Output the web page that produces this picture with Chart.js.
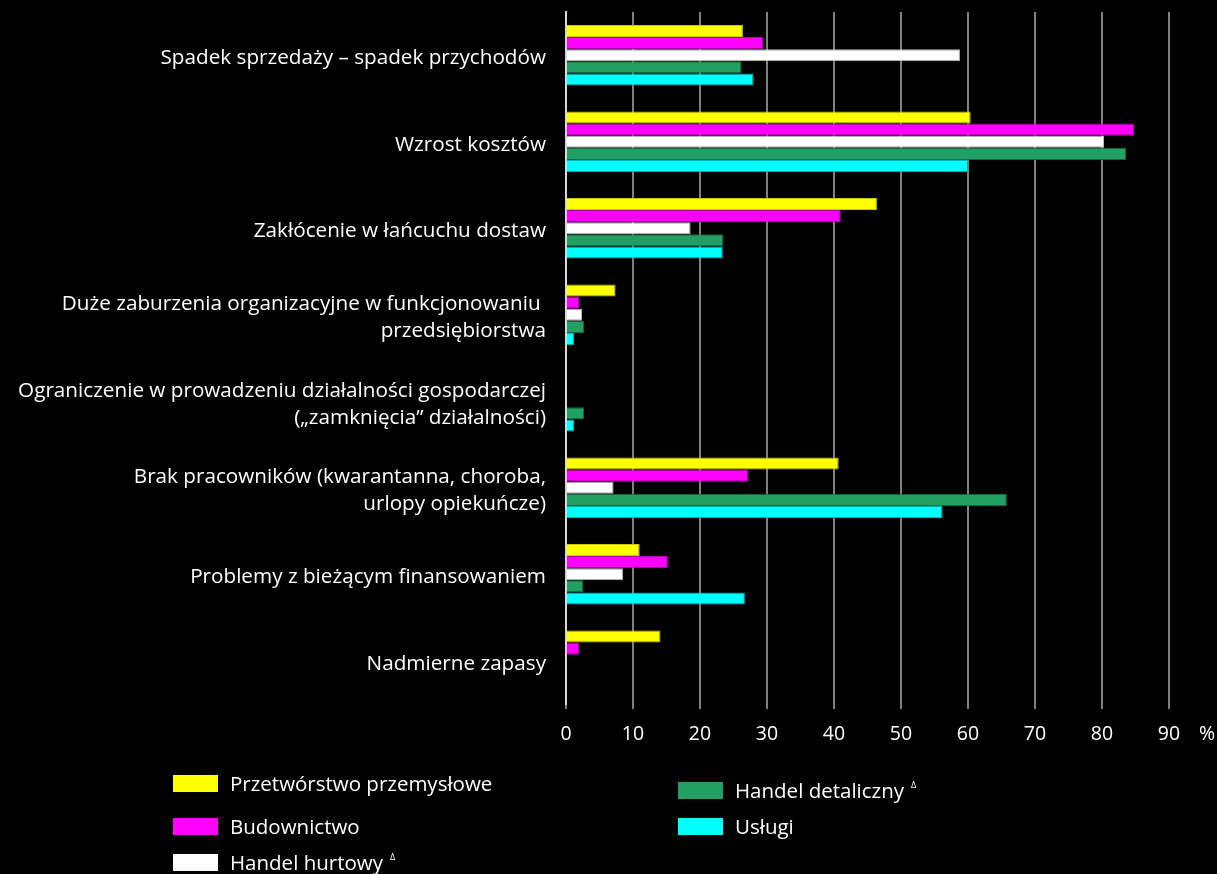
<!DOCTYPE html>
<html lang="pl">
<head>
<meta charset="utf-8">
<script src="https://cdn.jsdelivr.net/npm/chart.js@4"></script>
<style>
  body { margin: 0; background: #000; font-family: "Open Sans", sans-serif; }
  #wrap { position: relative; width: 1217px; height: 874px; }
  .legend-item { position: absolute; display: flex; align-items: center; color: #fff; font-size: 20.5px; line-height: 26px; white-space: nowrap; }
  .legend-item .box { width: 45px; height: 17px; margin-right: 12px; }
  .legend-item sup { font-size: 9px; margin-left: 7px; position: relative; top: -5px; }
</style>
</head>
<body>
<div id="wrap">
  <canvas id="chart" width="1217" height="874"></canvas>
  <div id="legend"></div>
</div>
<script>
const categories = [
    'Spadek sprzedaży – spadek przychodów',
    'Wzrost kosztów',
    'Zakłócenie w łańcuchu dostaw',
    ['Duże zaburzenia organizacyjne w funkcjonowaniu ', 'przedsiębiorstwa'],
    ['Ograniczenie w prowadzeniu działalności gospodarczej', '(„zamknięcia” działalności)'],
    ['Brak pracowników (kwarantanna, choroba,', 'urlopy opiekuńcze)'],
    'Problemy z bieżącym finansowaniem',
    'Nadmierne zapasy'
];

const przetworstwo = [26.4, 60.4, 46.4, 7.4, null, 40.7, 11.0, 14.1];
const budownictwo  = [29.4, 84.8, 41.0, 2.0, null, 27.2, 15.2, 2.0];
const hurtowy      = [58.8, 80.3, 18.6, 2.4, null, 7.1, 8.5, null];
const detaliczny   = [26.2, 83.6, 23.5, 2.7, 2.7, 65.8, 2.6, null];
const uslugi       = [28.0, 60.0, 23.4, 1.2, 1.2, 56.2, 26.7, null];

const xTicks = [0, 10, 20, 30, 40, 50, 60, 70, 80, 90];

const series = [
    { label: 'Przetwórstwo przemysłowe', data: przetworstwo, color: '#ffff00', border: '#c9c900', mark: false },
    { label: 'Budownictwo', data: budownictwo, color: '#ff00ff', border: '#b400b4', mark: false },
    { label: 'Handel hurtowy', data: hurtowy, color: '#ffffff', border: '#bdbdbd', mark: true },
    { label: 'Handel detaliczny', data: detaliczny, color: '#229f62', border: '#146a40', mark: true },
    { label: 'Usługi', data: uslugi, color: '#00ffff', border: '#00b3b3', mark: false }
];

// legend slots: left column 3 items, right column 2 items
const legendSlots = [
    { left: 173, top: 770 },
    { left: 173, top: 813 },
    { left: 173, top: 849 },
    { left: 678, top: 777 },
    { left: 678, top: 813 }
];

const percentSign = {
    id: 'percentSign',
    afterDraw(chart) {
        const xs = chart.scales.x;
        const ctx = chart.ctx;
        ctx.save();
        ctx.fillStyle = '#fff';
        ctx.font = '19.5px "Open Sans"';
        ctx.textAlign = 'left';
        ctx.textBaseline = 'middle';
        ctx.fillText('%', xs.getPixelForValue(xTicks[xTicks.length - 1]) + 30, 734);
        ctx.restore();
    }
};

const ctx = document.getElementById('chart').getContext('2d');
new Chart(ctx, {
    type: 'bar',
    data: {
        labels: categories,
        datasets: series.map(s => ({
            label: s.label,
            data: s.data,
            backgroundColor: s.color,
            borderColor: s.border,
            borderWidth: 1,
            categoryPercentage: 0.7,
            barPercentage: 1.0
        }))
    },
    options: {
        indexAxis: 'y',
        responsive: false,
        animation: false,
        layout: { padding: { top: 12, right: 48, bottom: 126, left: 0 } },
        plugins: {
            legend: { display: false },
            tooltip: { enabled: false }
        },
        scales: {
            x: {
                min: 0,
                max: 90,
                afterFit: s => { s.height = 44; s.paddingLeft = 0; s.paddingRight = 0; },
                afterBuildTicks: s => { s.ticks = xTicks.map(v => ({ value: v })); },
                grid: { color: '#808080', lineWidth: 2, tickLength: 5 },
                border: { display: false },
                ticks: { color: '#fff', padding: 14, font: { family: 'Open Sans', size: 19.5 } }
            },
            y: {
                afterFit: s => { s.width = 566; s.paddingTop = 0; s.paddingBottom = 0; },
                grid: { display: false, drawTicks: false },
                border: { display: true, color: '#d8d8d8', width: 2 },
                ticks: { color: '#fff', padding: 20, labelOffset: 3, font: { family: 'Open Sans', size: 20.7, lineHeight: 1.3 } }
            }
        }
    },
    plugins: [percentSign]
});

const legend = document.getElementById('legend');
series.forEach((s, i) => {
    const item = document.createElement('div');
    item.className = 'legend-item';
    item.style.left = legendSlots[i].left + 'px';
    item.style.top = legendSlots[i].top + 'px';
    const box = document.createElement('span');
    box.className = 'box';
    box.style.background = s.color;
    item.appendChild(box);
    const txt = document.createElement('span');
    txt.textContent = s.label;
    item.appendChild(txt);
    if (s.mark) {
        const sup = document.createElement('sup');
        sup.textContent = 'Δ';
        item.appendChild(sup);
    }
    legend.appendChild(item);
});
</script>
</body>
</html>
